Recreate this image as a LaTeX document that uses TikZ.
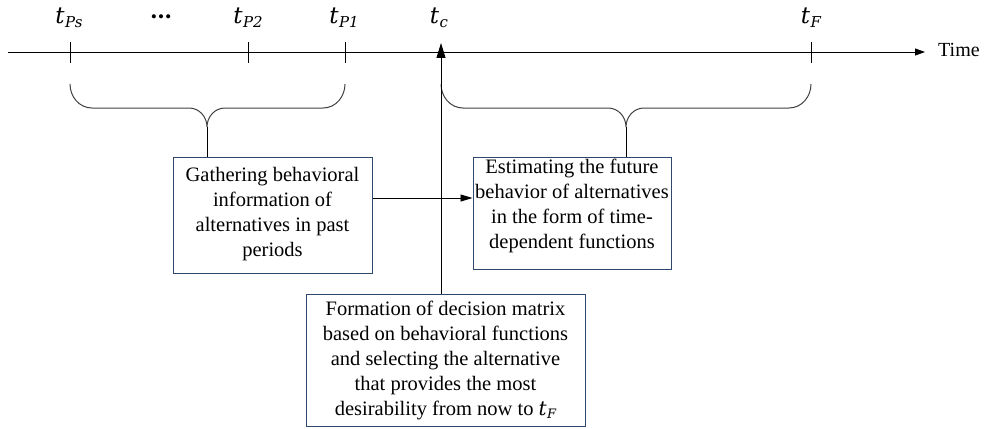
\documentclass[tikz,border=0pt]{standalone}
\usepackage{fontspec}
\setmainfont{Liberation Serif}
\newfontfamily\mlab{DejaVu Serif}
\usetikzlibrary{arrows.meta}
\definecolor{boxblue}{RGB}{47,72,110}
\newcommand{\tlab}[3]{{\mlab\itshape\fontsize{#1}{#1}\selectfont t}\kern0.5pt\raisebox{-#2pt}{\mlab\itshape\fontsize{0.65\dimexpr#1pt\relax}{10}\selectfont #3}}
\begin{document}
\begin{tikzpicture}[x=1pt,y=-1pt,
  axis/.style={line width=0.9pt, -{Triangle[length=10pt,width=7pt]}},
  tickline/.style={line width=0.9pt},
  bracepath/.style={line width=1pt, draw=black!75},
  boxnode/.style={draw=boxblue, line width=1pt, inner sep=0pt},
  txt/.style={font=\fontsize{20.5}{25}\selectfont, align=center, inner sep=0pt},
  lab/.style={font=\fontsize{20}{24}\selectfont, inner sep=0pt},
  hconn/.style={line width=0.9pt, -{Triangle[length=12pt,width=7pt]}},
  vconn/.style={line width=0.9pt, -{Triangle[length=15pt,width=9pt]}}]
\useasboundingbox (0,0) rectangle (995,428);
% timeline
\coordinate (tstart) at (8,52);
\coordinate (tend) at (925,52);
\coordinate (ps) at (70,52);
\coordinate (p2) at (248,52);
\coordinate (p1) at (345,52);
\coordinate (tc) at (441,52);
\coordinate (tf) at (811,52);
\draw[axis] (tstart) -- (tend);
\node[lab, anchor=west] (time) at (938,50) {Time};
\foreach \c in {ps,p2,p1,tf}
  \draw[tickline] ([yshift=10pt]\c) -- ([yshift=-11pt]\c);
% labels
\node[lab] (lps) at (69,18) {\tlab{23}{4}{Ps}};
\node[lab] (ldots) at (161,17) {{\mlab\bfseries\fontsize{22}{22}\selectfont …}};
\node[lab] (lp2) at (248,18) {\tlab{23}{4}{P2}};
\node[lab] (lp1) at (344,18) {\tlab{23}{4}{P1}};
\node[lab] (lc) at (439,18) {\tlab{23}{4}{c}};
\node[lab] (lf) at (811,18) {\tlab{23}{4}{F}};
% boxes
\node[boxnode, minimum width=199pt, minimum height=116pt] (gather) at (272.5,215) {};
\node[txt, anchor=north] (gatherT) at ([yshift=-10.5pt]gather.north)
  {Gathering behavioral\\information of\\alternatives in past\\periods};
\node[boxnode, minimum width=198pt, minimum height=112pt] (estim) at (572,213) {};
\node[txt, anchor=north] (estimT) at ([yshift=-2pt]estim.north)
  {Estimating the future\\behavior of alternatives\\in the form of time-\\dependent functions};
\node[boxnode, minimum width=279pt, minimum height=132pt] (decide) at (445.5,360.5) {};
\node[txt, anchor=north] (decideT) at ([yshift=-6.5pt]decide.north)
  {Formation of decision matrix\\based on behavioral functions\\and selecting the alternative\\that provides the most\\desirability from now to \tlab{20}{3}{F}};
% braces
\coordinate (bl) at (207,127);
\coordinate (br) at (626,127);
\draw[bracepath] (70,84) to[out=-90,in=180] (92,108) -- (189,108)
  to[out=0,in=90] (bl) to[out=90,in=180] (225,108) -- (323,108)
  to[out=0,in=-90] (345,84);
\draw[bracepath] (441,84) to[out=-90,in=180] (463,108) -- (608,108)
  to[out=0,in=90] (br) to[out=90,in=180] (644,108) -- (789,108)
  to[out=0,in=-90] (811,84);
\draw[line width=0.9pt] (bl) -- (bl |- gather.north);
\draw[line width=0.9pt] (br) -- (br |- estim.north);
% connectors
\draw[hconn] ([yshift=17pt]gather.east) coordinate (a1) -- (a1 -| estim.west);
\coordinate (tctip) at (441,43);
\draw[vconn] (tctip |- decide.north) -- (tctip);
\end{tikzpicture}
\end{document}
